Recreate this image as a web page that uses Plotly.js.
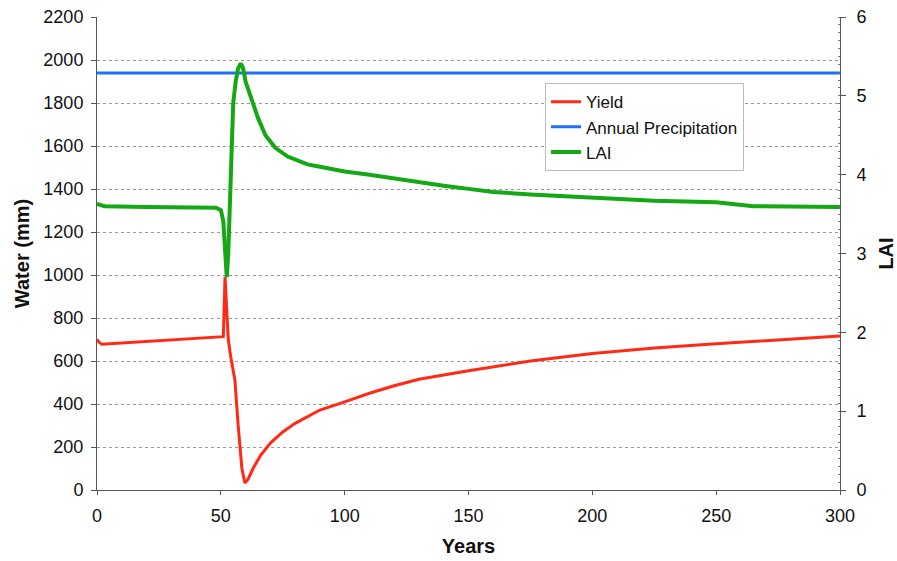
<!DOCTYPE html>
<html>
<head>
<meta charset="utf-8">
<script src="https://cdn.plot.ly/plotly-3.0.1.min.js"></script>
<style>html,body{margin:0;padding:0;background:#fff;}#chart{width:897px;height:561px;}</style>
</head>
<body>
<div id="chart"></div>
<script>
// Yield (mm, left axis)
const yieldYears = [0, 1, 2, 5, 10, 20, 30, 40, 50, 51, 51.7, 52.3, 53, 54, 55.7, 57, 58.5, 59.7, 61, 63, 66, 70, 75, 80, 90, 100, 110, 120, 130, 150, 175, 200, 225, 250, 275, 300];
const yieldMm = [700, 685, 678, 680, 685, 690, 697, 703, 710, 713, 992, 850, 700, 620, 510, 300, 100, 33, 50, 100, 160, 218, 270, 310, 372, 410, 450, 485, 515, 555, 600, 635, 660, 680, 698, 716];

// Annual precipitation (mm, left axis)
const precipYears = [0, 300];
const precipMm = [1940, 1940];

// LAI (right axis)
const laiYears = [0, 3, 20, 40, 48, 50, 51, 51.8, 52.4, 53, 54, 55, 56, 57, 58, 59, 60, 62, 65, 68, 72, 77, 85, 90, 100, 110, 120, 130, 140, 150, 160, 175, 200, 225, 250, 265, 300];
const laiVals = [3.63, 3.60, 3.59, 3.59, 3.58, 3.55, 3.41, 3.0, 2.70, 3.0, 4.09, 4.91, 5.18, 5.35, 5.41, 5.35, 5.18, 4.99, 4.72, 4.50, 4.34, 4.23, 4.13, 4.10, 4.04, 4.00, 3.95, 3.90, 3.86, 3.82, 3.78, 3.75, 3.71, 3.67, 3.65, 3.60, 3.59];

const xTicks = [0, 50, 100, 150, 200, 250, 300];
const yTicks = [0, 200, 400, 600, 800, 1000, 1200, 1400, 1600, 1800, 2000, 2200];
const y2Ticks = [0, 1, 2, 3, 4, 5, 6];

const fam = 'Liberation Sans, Arial, sans-serif';
const tickFont = {family: fam, size: 18, color: '#111'};
const titleFont = {family: fam, size: 20, color: '#111'};

const traces = [
  {x: yieldYears, y: yieldMm, name: 'Yield', mode: 'lines', line: {color: '#ff2a14', width: 3}, yaxis: 'y'},
  {x: precipYears, y: precipMm, name: 'Annual Precipitation', mode: 'lines', line: {color: '#1f6fff', width: 3}, yaxis: 'y'},
  {x: laiYears, y: laiVals, name: 'LAI', mode: 'lines', line: {color: '#14a814', width: 4}, yaxis: 'y2'}
];

const layout = {
  width: 897, height: 561,
  margin: {l: 97, r: 57, t: 17, b: 71},
  paper_bgcolor: '#fff', plot_bgcolor: '#fff',
  font: tickFont,
  showlegend: true,
  legend: {x: 0.603, y: 0.86, xanchor: 'left', yanchor: 'top', bgcolor: '#fff', bordercolor: '#bbb', borderwidth: 1, font: {family: fam, size: 17, color: '#111'}, tracegroupgap: 0},
  xaxis: {
    range: [0, 300], tickvals: xTicks, ticktext: xTicks.map(String),
    showline: true, linecolor: '#555', linewidth: 1, ticks: 'outside', ticklen: 4, tickcolor: '#555',
    ticklabelstandoff: 5,
    showgrid: false, zeroline: false, automargin: false,
    title: {text: '<b>Years</b>', font: titleFont, standoff: 14},
    tickfont: tickFont
  },
  yaxis: {
    range: [0, 2200], tickvals: yTicks, ticktext: yTicks.map(String),
    showline: true, linecolor: '#555', linewidth: 1, ticks: 'outside', ticklen: 5, tickcolor: '#555',
    ticklabelstandoff: 4,
    showgrid: true, gridcolor: '#999', griddash: 'dot', gridwidth: 1, zeroline: false, automargin: false,
    title: {text: '<b>Water (mm)</b>', font: titleFont, standoff: 8},
    tickfont: tickFont
  },
  yaxis2: {
    range: [0, 6], tickvals: y2Ticks, ticktext: y2Ticks.map(String),
    overlaying: 'y', side: 'right',
    showline: true, linecolor: '#555', linewidth: 1, ticks: 'outside', ticklen: 5, tickcolor: '#555',
    ticklabelstandoff: 7,
    minor: {dtick: 0.1, ticklen: 2, tickcolor: '#777', ticks: 'inside', showgrid: false},
    showgrid: false, zeroline: false, automargin: false,
    title: {text: '<b>LAI</b>', font: titleFont, standoff: 14},
    tickfont: tickFont
  }
};

Plotly.newPlot('chart', traces, layout, {displayModeBar: false, staticPlot: true});
</script>
</body>
</html>
